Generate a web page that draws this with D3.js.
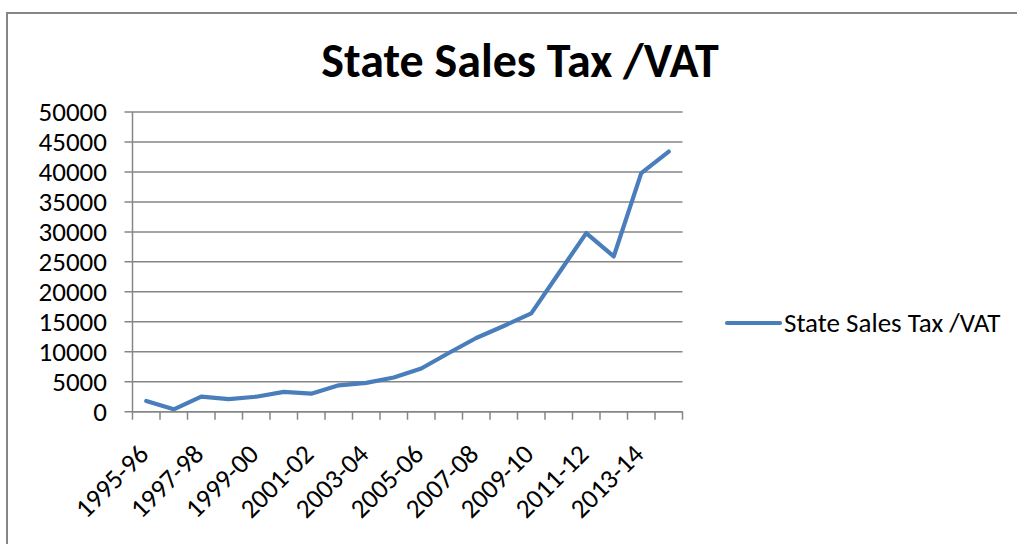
<!DOCTYPE html>
<html>
<head>
<meta charset="utf-8">
<script src="https://cdn.jsdelivr.net/npm/d3@7"></script>
<style>
  body { margin: 0; background: #fff; }
  svg text { font-family: Carlito, Calibri, Lato, "Open Sans", sans-serif; fill: #000; }
</style>
</head>
<body>
<svg id="chart" width="1017" height="544"></svg>
<script>
const years = ["1995-96", "1996-97", "1997-98", "1998-99", "1999-00", "2000-01", "2001-02",
  "2002-03", "2003-04", "2004-05", "2005-06", "2006-07", "2007-08", "2008-09", "2009-10",
  "2010-11", "2011-12", "2012-13", "2013-14", "2014-15"];
const salesTax = [1800, 400, 2500, 2100, 2500, 3300, 3000, 4400, 4800, 5700,
  7200, 9800, 12300, 14300, 16400, 23100, 29800, 25900, 39800, 43400];
const yTicks = [0, 5000, 10000, 15000, 20000, 25000, 30000, 35000, 40000, 45000, 50000];
const seriesName = "State Sales Tax /VAT";

const svg = d3.select("#chart");
const margin = { top: 112, left: 132.5, right: 334.5, bottom: 132.3 };
const width = +svg.attr("width");
const height = +svg.attr("height");
const innerW = width - margin.left - margin.right;
const innerH = height - margin.top - margin.bottom;
const gridColor = "#868686";
const lineColor = "#4a7ebb";

// outer frame (only top and left edges visible)
svg.append("path")
  .attr("d", `M7,544 V13 H1017`)
  .attr("fill", "none")
  .attr("stroke", gridColor)
  .attr("stroke-width", 2);

svg.append("text")
  .attr("x", 520)
  .attr("y", 77)
  .attr("text-anchor", "middle")
  .style("font-size", "48px")
  .style("font-weight", "bold")
  .text(seriesName);

const g = svg.append("g").attr("transform", `translate(${margin.left},${margin.top})`);

const x = d3.scaleBand().domain(years).range([0, innerW]);
const y = d3.scaleLinear().domain([0, 50000]).range([innerH, 0]);

// gridlines
g.append("g")
  .selectAll("line")
  .data(yTicks)
  .join("line")
  .attr("x1", -8)
  .attr("x2", innerW)
  .attr("y1", d => y(d))
  .attr("y2", d => y(d))
  .attr("stroke", gridColor)
  .attr("stroke-width", 1.5);

// y labels
g.append("g")
  .selectAll("text")
  .data(yTicks)
  .join("text")
  .attr("x", -25.5)
  .attr("y", d => y(d))
  .attr("dy", "0.33em")
  .attr("text-anchor", "end")
  .style("font-size", "27px")
  .text(d => d);

// y axis line
g.append("line")
  .attr("x1", 0).attr("x2", 0)
  .attr("y1", 0).attr("y2", innerH)
  .attr("stroke", gridColor)
  .attr("stroke-width", 1.5);

// x axis with tick marks between categories
const xAxis = d3.axisBottom(x).tickSize(8).tickFormat("");
const xg = g.append("g").attr("transform", `translate(0,${innerH})`).call(xAxis);
xg.select(".domain").attr("stroke", gridColor).attr("stroke-width", 1.5).attr("d", `M0,0H${innerW}`);
xg.selectAll(".tick line").attr("stroke", gridColor).attr("stroke-width", 1.5)
  .attr("transform", `translate(${-x.bandwidth() / 2},0)`);
xg.append("line")
  .attr("x1", innerW).attr("x2", innerW).attr("y1", 0).attr("y2", 8)
  .attr("stroke", gridColor).attr("stroke-width", 1.5);

// rotated category labels, every other one
g.append("g")
  .selectAll("text")
  .data(years.filter((d, i) => i % 2 === 0))
  .join("text")
  .attr("transform", d => `translate(${x(d) + x.bandwidth() / 2 + 4},${innerH + 44}) rotate(-45)`)
  .attr("text-anchor", "end")
  .style("font-size", "27px")
  .text(d => d);

// series line
const line = d3.line()
  .x((d, i) => x(years[i]) + x.bandwidth() / 2)
  .y(d => y(d));

g.append("path")
  .datum(salesTax)
  .attr("d", line)
  .attr("fill", "none")
  .attr("stroke", lineColor)
  .attr("stroke-width", 4.2)
  .attr("stroke-linejoin", "round")
  .attr("stroke-linecap", "round");

// legend
const legend = svg.append("g").attr("transform", "translate(727,323)");
legend.append("line")
  .attr("x1", 0).attr("x2", 53)
  .attr("stroke", lineColor)
  .attr("stroke-width", 4.2)
  .attr("stroke-linecap", "round");
legend.append("text")
  .attr("x", 57)
  .attr("dy", "0.33em")
  .style("font-size", "27px")
  .text(seriesName);
</script>
</body>
</html>
